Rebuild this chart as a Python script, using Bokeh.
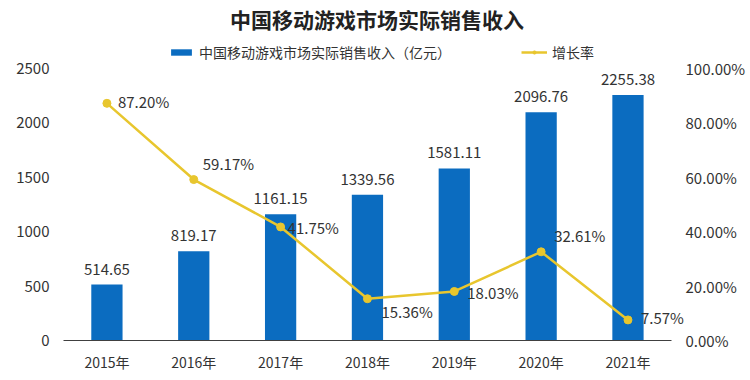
from bokeh.plotting import figure
from bokeh.models import (ColumnDataSource, Range1d, LinearAxis, FixedTicker,
                          NumeralTickFormatter, LabelSet, Legend, LegendItem)
from bokeh.core.properties import value
from bokeh.embed import file_html
from bokeh.resources import INLINE

years = ["2015年", "2016年", "2017年", "2018年", "2019年", "2020年", "2021年"]
revenue = [514.65, 819.17, 1161.15, 1339.56, 1581.11, 2096.76, 2255.38]
growth = [0.8720, 0.5917, 0.4175, 0.1536, 0.1803, 0.3261, 0.0757]
revenue_labels = ["514.65", "819.17", "1161.15", "1339.56", "1581.11", "2096.76", "2255.38"]
growth_labels = ["87.20%", "59.17%", "41.75%", "15.36%", "18.03%", "32.61%", "7.57%"]
left_ticks = [0, 500, 1000, 1500, 2000, 2500]
right_ticks = [0.0, 0.2, 0.4, 0.6, 0.8, 1.0]

# label placement offsets (screen px)
label_dx = [11, 9, 7, 14, 13, 13, 13]
label_dy = [2, 16, -1, -13, -1, 16, 2]

FONT = "Noto Sans CJK SC"
BAR = "#0B6CC0"
LINE = "#E8C62E"
TXT = "#333333"

HEAD = 1.125      # frame extends above the top tick to hold the legend
RIGHT_PAD = 0.22  # room right of the last category for its growth label

n = len(years)
xs = list(range(n))
src = ColumnDataSource(dict(x=xs, revenue=revenue, growth=growth,
                            rlab=revenue_labels, glab=growth_labels,
                            dx=label_dx, dy=label_dy))

p = figure(frame_width=627, frame_height=306,
           x_range=Range1d(-0.5, n - 0.5 + RIGHT_PAD),
           y_range=Range1d(0, left_ticks[-1] * HEAD), output_backend="svg", toolbar_location=None,
           min_border_left=63, min_border_right=60, min_border_top=34, min_border_bottom=40)
p.extra_y_ranges = {"pct": Range1d(0, right_ticks[-1] * HEAD)}

p.title.text = "中国移动游戏市场实际销售收入"
p.title.align = "center"
p.title.text_font = FONT
p.title.text_font_size = "21px"
p.title.text_font_style = "bold"
p.title.text_color = "#222222"
p.title.standoff = 2

bars = p.vbar(x="x", top="revenue", width=0.36, source=src, color=BAR, line_color=None)
ln = p.line(x="x", y="growth", source=src, y_range_name="pct", line_color=LINE, line_width=2.5)
pts = p.scatter(x="x", y="growth", source=src, y_range_name="pct", size=8,
                fill_color=LINE, line_color=LINE)

p.add_layout(LabelSet(x="x", y="revenue", text="rlab", source=src, text_align="center",
                      text_baseline="bottom", y_offset=10, text_font=value(FONT),
                      text_font_size=value("15px"), text_color=TXT))
p.add_layout(LabelSet(x="x", y="growth", text="glab", source=src, y_range_name="pct",
                      x_offset="dx", y_offset="dy", text_align="left", text_baseline="middle",
                      text_font=value(FONT), text_font_size=value("15px"), text_color=TXT))

right = LinearAxis(y_range_name="pct", ticker=FixedTicker(ticks=right_ticks),
                   formatter=NumeralTickFormatter(format="0.00%"))
p.add_layout(right, "right")
p.yaxis[0].ticker = FixedTicker(ticks=left_ticks)

for ax in p.yaxis:
    ax.axis_line_color = None
    ax.major_tick_line_color = None
    ax.minor_tick_line_color = None
    ax.major_tick_out = 0
    ax.major_tick_in = 0
    ax.major_label_text_font = FONT
    ax.major_label_text_font_size = "15px"
    ax.major_label_text_color = TXT
p.yaxis[0].major_label_standoff = 14
right.major_label_standoff = -5

xa = p.xaxis[0]
xa.ticker = FixedTicker(ticks=xs)
xa.major_label_overrides = {i: y for i, y in zip(xs, years)}
xa.bounds = (-0.5, n - 0.5)
xa.axis_line_color = "#404040"
xa.axis_line_width = 1
xa.major_tick_line_color = None
xa.minor_tick_line_color = None
xa.major_tick_out = 0
xa.major_tick_in = 0
xa.major_label_text_font = FONT
xa.major_label_text_font_size = "14px"
xa.major_label_text_color = TXT
xa.major_label_standoff = 11

p.xgrid.visible = False
p.ygrid.visible = False
p.outline_line_color = None

legend = Legend(items=[LegendItem(label="中国移动游戏市场实际销售收入（亿元）", renderers=[bars]),
                       LegendItem(label="增长率", renderers=[ln, pts])],
                orientation="horizontal", location=(105, 278), padding=0, margin=0,
                spacing=70, glyph_width=26, glyph_height=8, label_standoff=5,
                label_text_font=FONT, label_text_font_size="14px", label_text_color=TXT,
                background_fill_alpha=0, border_line_color=None)
p.add_layout(legend, "center")

open("out.html", "w").write(file_html(p, INLINE))
